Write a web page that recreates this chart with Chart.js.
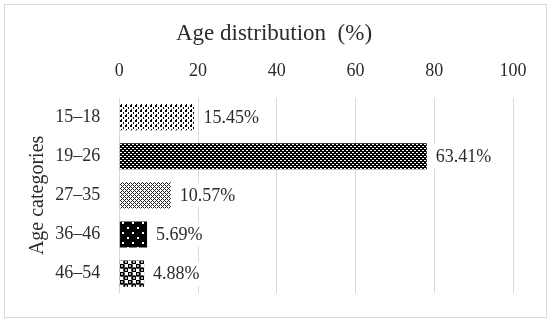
<!DOCTYPE html>
<html>
<head>
<meta charset="utf-8">
<script src="https://cdn.jsdelivr.net/npm/chart.js@4"></script>
<style>
  html, body { margin: 0; padding: 0; background: #fff; }
</style>
</head>
<body>
<canvas id="chart" width="550" height="323"></canvas>
<script>
// Data
const categories = ["15–18", "19–26", "27–35", "36–46", "46–54"];
const barLengths = [19.1, 78.1, 13.1, 7.05, 6.3];
const labelTexts = ["15.45%", "63.41%", "10.57%", "5.69%", "4.88%"];
const xTicks = [0, 20, 40, 60, 80, 100];

const serif = "'Liberation Serif', 'DejaVu Serif', serif";
const textColor = "#2b2b2b";

// Build pattern fills for the bars
function makePattern(w, h, draw) {
  const c = document.createElement("canvas");
  c.width = w;
  c.height = h;
  const g = c.getContext("2d");
  draw(g, w, h);
  return document.getElementById("chart").getContext("2d").createPattern(c, "repeat");
}

const patterns = [
  // white with black dots
  makePattern(5, 5, (g, w, h) => {
    g.fillStyle = "#fff"; g.fillRect(0, 0, w, h);
    g.fillStyle = "#000";
    g.fillRect(0, 0, 2, 2);
    g.fillRect(3, 2, 1, 2);
    g.fillRect(1, 4, 1, 1);
  }),
  // black with small white dots
  makePattern(4, 4, (g, w, h) => {
    g.fillStyle = "#000"; g.fillRect(0, 0, w, h);
    g.fillStyle = "#fff";
    g.fillRect(0, 0, 2, 1);
    g.fillRect(2, 2, 2, 1);
  }),
  // fine diagonal crosshatch
  makePattern(4, 4, (g, w, h) => {
    g.fillStyle = "#fff"; g.fillRect(0, 0, w, h);
    g.fillStyle = "#222";
    for (let x = 0; x < w; x++) {
      for (let y = 0; y < h; y++) {
        if ((x + y) % 4 === 0 || (x - y + 4) % 4 === 0) g.fillRect(x, y, 1, 1);
      }
    }
  }),
  // black with sparse white dots
  makePattern(10, 10, (g, w, h) => {
    g.fillStyle = "#000"; g.fillRect(0, 0, w, h);
    g.fillStyle = "#fff";
    g.fillRect(2, 2, 2, 2);
    g.fillRect(7, 7, 2, 2);
  }),
  // checker of round spots
  makePattern(8, 8, (g, w, h) => {
    g.fillStyle = "#fff"; g.fillRect(0, 0, w, h);
    g.fillStyle = "#000";
    g.beginPath(); g.arc(2, 2, 2.8, 0, Math.PI * 2); g.fill();
    g.beginPath(); g.arc(6, 6, 2.8, 0, Math.PI * 2); g.fill();
    g.fillStyle = "#fff";
    g.beginPath(); g.arc(2, 2, 0.9, 0, Math.PI * 2); g.fill();
    g.beginPath(); g.arc(6, 6, 0.9, 0, Math.PI * 2); g.fill();
  })
];

// outer light border around the picture
const frame = {
  id: "frame",
  beforeDraw(chart) {
    const c = chart.ctx;
    c.save();
    c.fillStyle = "#fff";
    c.fillRect(0, 0, chart.width, chart.height);
    c.strokeStyle = "#d9d9d9";
    c.lineWidth = 1;
    c.strokeRect(4.5, 4.5, 542, 313);
    c.restore();
  }
};

// value labels to the right of each bar
const barLabels = {
  id: "barLabels",
  afterDatasetsDraw(chart) {
    const c = chart.ctx;
    const meta = chart.getDatasetMeta(0);
    c.save();
    c.font = "18px " + serif;
    c.textAlign = "left";
    c.textBaseline = "middle";
    meta.data.forEach((bar, i) => {
      const x = bar.x + 9;
      const w = c.measureText(labelTexts[i]).width;
      c.fillStyle = "#fff";
      c.fillRect(x - 2, bar.y - 12, w + 4, 24);
      c.fillStyle = textColor;
      c.fillText(labelTexts[i], x, bar.y + 1);
    });
    c.restore();
  }
};

new Chart(document.getElementById("chart"), {
  type: "bar",
  data: {
    labels: categories,
    datasets: [{
      label: "Age distribution (%)",
      data: barLengths,
      backgroundColor: patterns,
      borderWidth: 0,
      barPercentage: 0.667,
      categoryPercentage: 1
    }]
  },
  options: {
    indexAxis: "y",
    responsive: false,
    animation: false,
    devicePixelRatio: 1,
    layout: { padding: { left: 35, right: 37, top: 5, bottom: 25 } },
    plugins: {
      legend: { display: false },
      tooltip: { enabled: false },
      title: {
        display: true,
        text: "Age distribution  (%)",
        color: textColor,
        font: { family: serif, size: 23, weight: "normal" },
        padding: { top: 15, bottom: 0 }
      }
    },
    scales: {
      x: {
        position: "top",
        min: 0,
        max: 100,
        afterBuildTicks: scale => { scale.ticks = xTicks.map(v => ({ value: v })); },
        afterFit: scale => { scale.height = 50; },
        ticks: {
          color: textColor,
          font: { family: serif, size: 18 },
          padding: 16,
          maxRotation: 0
        },
        grid: { color: "#d9d9d9", lineWidth: 1, drawTicks: false },
        border: { display: false }
      },
      y: {
        afterFit: scale => { scale.width = 84.3; },
        ticks: {
          color: textColor,
          font: { family: serif, size: 18 },
          padding: 19
        },
        grid: { display: false, drawTicks: false },
        border: { display: false },
        title: {
          display: true,
          text: "Age categories",
          color: textColor,
          font: { family: serif, size: 20 },
          padding: { top: -9, bottom: 0 }
        }
      }
    }
  },
  plugins: [frame, barLabels]
});
</script>
</body>
</html>
